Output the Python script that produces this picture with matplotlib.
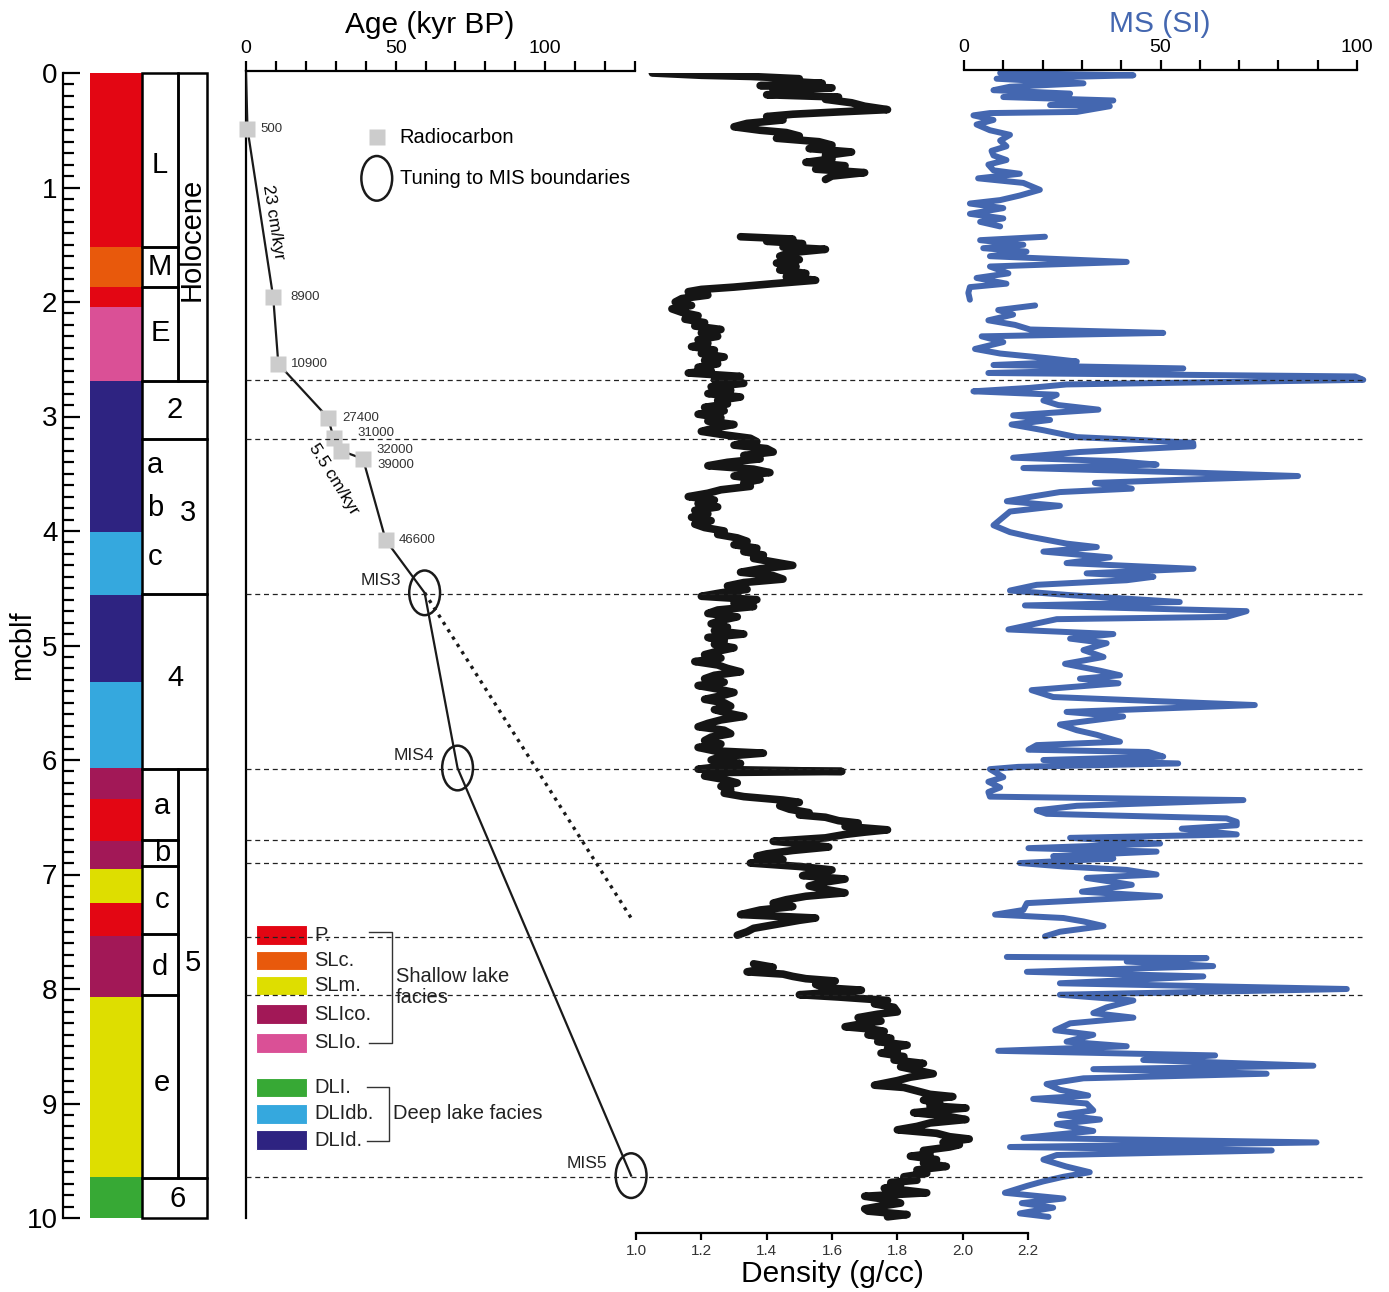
import matplotlib.pyplot as plt
import numpy as np
from matplotlib.patches import Rectangle, Ellipse

plt.rcParams['font.family'] = ['Liberation Sans', 'DejaVu Sans']

# ---------------- data ----------------
facies_names = ['P.', 'SLc.', 'SLm.', 'SLlco.', 'SLlo.', 'DLl.', 'DLldb.', 'DLld.']
facies_colors = {'P.': '#E30613', 'SLc.': '#E8590C', 'SLm.': '#DEDE00', 'SLlco.': '#A21857',
                 'SLlo.': '#DA5096', 'DLl.': '#37A935', 'DLldb.': '#35A8DE', 'DLld.': '#2E2381'}
facies_labels = ['P.', 'SLc.', 'SLm.', 'SLIco.', 'SLIo.', 'DLI.', 'DLIdb.', 'DLId.']

# lithology column (top, bottom, facies)
litho_top = [0.0, 1.52, 1.87, 2.04, 2.69, 4.01, 4.56, 5.32, 6.07, 6.34, 6.71, 6.95, 7.25, 7.54, 8.07, 9.64]
litho_bot = [1.52, 1.87, 2.04, 2.69, 4.01, 4.56, 5.32, 6.07, 6.34, 6.71, 6.95, 7.25, 7.54, 8.07, 9.64, 10.0]
litho_fac = ['P.', 'SLc.', 'P.', 'SLlo.', 'DLld.', 'DLldb.', 'DLld.', 'DLldb.', 'SLlco.', 'P.',
             'SLlco.', 'SLm.', 'P.', 'SLlco.', 'SLm.', 'DLl.']

# unit boxes (top, bottom, column)
box_top = [0.0, 1.52, 1.87, 0.0, 2.69, 3.20, 4.55, 6.08, 6.70, 6.93, 7.52, 8.05, 6.08, 9.65]
box_bot = [1.52, 1.87, 2.69, 2.69, 3.20, 4.55, 6.08, 6.70, 6.93, 7.52, 8.05, 9.65, 9.65, 10.0]
box_col = ['sub', 'sub', 'sub', 'unit', 'full', 'full', 'full', 'sub', 'sub', 'sub', 'sub', 'sub', 'unit', 'full']

unit_text = ['L', 'M', 'E', 'Holocene', '2', 'a', 'b', 'c', '3', '4', 'a', 'b', 'c', 'd', 'e', '5', '6']
unit_text_depth = [0.80, 1.69, 2.27, 1.45, 2.94, 3.42, 3.80, 4.23, 3.84, 5.28, 6.40, 6.81, 7.22, 7.81, 8.82, 7.77, 9.83]
unit_text_x = [97, 97, 97, 129, 112, 92, 92, 92, 125, 112, 99, 99, 99, 97, 99, 130, 115]

boundary_depth = [2.68, 3.20, 4.55, 6.08, 6.70, 6.90, 7.55, 8.05, 9.64]

# age model
rc_age = [0.5, 9.1, 10.8, 27.4, 29.3, 31.9, 39.1, 46.7]
rc_depth = [0.49, 1.96, 2.54, 3.01, 3.19, 3.30, 3.37, 4.08]
rc_label = ['500', '8900', '10900', '27400', '31000', '32000', '39000', '46600']
rc_offset = [(9, 0), (12, 0), (9, 0), (10.5, 0), (17, 3.5), (25, 0.5), (10.5, -4.5), (9, 0)]
mis_age = [59.7, 70.7, 128.7]
mis_depth = [4.54, 6.07, 9.63]
mis_label = ['MIS3', 'MIS4', 'MIS5']
extrap_age = [59.7, 128.7]
extrap_depth = [4.54, 7.38]

density_depth = [
    0.00, 0.02, 0.03, 0.05, 0.07, 0.09, 0.11, 0.13, 0.15, 0.17, 0.19, 0.21, 0.23, 0.26, 0.29, 0.32,
    0.34, 0.36, 0.38, 0.41, 0.44, 0.47, 0.50, 0.52, 0.55, 0.57, 0.60, 0.63, 0.66, 0.69, 0.72, 0.75,
    0.78, 0.81, 0.84, 0.87, 0.90, 0.93, np.nan,
    1.43, 1.45, 1.47, 1.49, 1.52, 1.54, 1.57, 1.60, 1.63, 1.66, 1.69, 1.72, 1.75, 1.78, 1.81, 1.84,
    1.87, 1.89, 1.91, 1.94, 1.97, 2.00, 2.03, 2.06, 2.09, 2.12, 2.15, 2.18, 2.21, 2.24, 2.27, 2.30,
    2.33, 2.36, 2.39, 2.42, 2.45, 2.48, 2.51, 2.54, 2.57, 2.60, 2.62, 2.65, 2.68, 2.71, 2.74, 2.77,
    2.80, 2.83, 2.86, 2.89, 2.92, 2.95, 2.98, 3.01, 3.04, 3.07, 3.10, 3.13, 3.16, 3.19, 3.22, 3.25,
    3.28, 3.31, 3.34, 3.37, 3.40, 3.43, 3.46, 3.49, 3.52, 3.55, 3.58, 3.61, 3.64, 3.67, 3.70, 3.73,
    3.76, 3.79, 3.82, 3.85, 3.88, 3.91, 3.94, 3.97, 4.00, 4.03, 4.06, 4.09, 4.12, 4.15, 4.18, 4.21,
    4.24, 4.27, 4.30, 4.33, 4.36, 4.39, 4.42, 4.45, 4.48, 4.51, 4.54, 4.57, 4.60, 4.63, 4.66, 4.69,
    4.72, 4.75, 4.78, 4.81, 4.84, 4.87, 4.90, 4.93, 4.96, 4.99, 5.02, 5.05, 5.08, 5.11, 5.14, 5.17,
    5.20, 5.23, 5.26, 5.29, 5.32, 5.35, 5.38, 5.41, 5.44, 5.47, 5.50, 5.53, 5.56, 5.59, 5.62, 5.65,
    5.68, 5.71, 5.74, 5.77, 5.80, 5.83, 5.86, 5.89, 5.92, 5.94, 5.97, 6.00, 6.03, 6.06, 6.08, 6.10,
    6.11, 6.14, 6.17, 6.20, 6.23, 6.26, 6.29, 6.32, 6.35, 6.37, 6.40, 6.43, 6.46, 6.48, 6.50, 6.53,
    6.55, 6.58, 6.61, 6.63, 6.65, 6.68, 6.71, 6.73, 6.76, 6.79, 6.82, 6.84, 6.87, 6.90, 6.93, 6.96,
    6.99, 7.01, 7.04, 7.07, 7.10, 7.12, 7.16, 7.19, 7.22, 7.25, 7.28, 7.31, 7.35, 7.38, 7.40, 7.44,
    7.47, 7.50, 7.53, np.nan,
    7.78, 7.81, 7.85, 7.87, 7.89, 7.91, 7.93, 7.96, 7.99, 8.01, 8.03, 8.05, 8.07, 8.10, 8.13, 8.16,
    8.20, 8.22, 8.25, 8.28, 8.30, 8.33, 8.35, 8.37, 8.40, 8.43, 8.46, 8.49, 8.52, 8.54, 8.56, 8.59,
    8.62, 8.65, 8.68, 8.71, 8.74, 8.77, 8.80, 8.84, 8.86, 8.89, 8.92, 8.94, 8.97, 9.00, 9.02, 9.04,
    9.06, 9.08, 9.11, 9.14, 9.17, 9.20, 9.23, 9.26, 9.29, 9.31, 9.34, 9.36, 9.38, 9.41, 9.44, 9.46,
    9.49, 9.52, 9.55, 9.58, 9.61, 9.64, 9.67, 9.69, 9.71, 9.74, 9.76, 9.78, 9.81, 9.84, 9.87, 9.90,
    9.92, 9.94, 9.97, 9.99]
density = [
    1.05, 1.20, 1.35, 1.50, 1.45, 1.57, 1.38, 1.60, 1.42, 1.52, 1.40, 1.62, 1.58, 1.66, 1.70, 1.77,
    1.62, 1.48, 1.40, 1.45, 1.34, 1.30, 1.38, 1.46, 1.50, 1.43, 1.56, 1.60, 1.53, 1.66, 1.58, 1.60,
    1.52, 1.64, 1.55, 1.70, 1.60, 1.58, np.nan,
    1.32, 1.48, 1.40, 1.51, 1.45, 1.58, 1.47, 1.44, 1.50, 1.43, 1.49, 1.44, 1.52, 1.46, 1.55, 1.42,
    1.30, 1.20, 1.16, 1.22, 1.14, 1.12, 1.17, 1.11, 1.14, 1.19, 1.15, 1.21, 1.18, 1.26, 1.20, 1.25,
    1.19, 1.22, 1.17, 1.24, 1.20, 1.27, 1.21, 1.25, 1.19, 1.23, 1.16, 1.32, 1.24, 1.33, 1.23, 1.29,
    1.22, 1.32, 1.25, 1.28, 1.21, 1.27, 1.19, 1.26, 1.22, 1.30, 1.24, 1.20, 1.27, 1.35, 1.37, 1.30,
    1.40, 1.42, 1.33, 1.38, 1.28, 1.22, 1.36, 1.41, 1.30, 1.38, 1.33, 1.35, 1.26, 1.22, 1.16, 1.24,
    1.19, 1.25, 1.18, 1.22, 1.17, 1.23, 1.18, 1.21, 1.27, 1.25, 1.31, 1.34, 1.30, 1.37, 1.33, 1.39,
    1.36, 1.42, 1.48, 1.38, 1.32, 1.42, 1.45, 1.33, 1.28, 1.34, 1.26, 1.20, 1.37, 1.30, 1.36, 1.25,
    1.22, 1.31, 1.26, 1.23, 1.28, 1.24, 1.33, 1.22, 1.27, 1.24, 1.30, 1.25, 1.21, 1.26, 1.18, 1.25,
    1.28, 1.32, 1.24, 1.21, 1.27, 1.19, 1.25, 1.30, 1.26, 1.21, 1.27, 1.29, 1.24, 1.28, 1.33, 1.26,
    1.22, 1.19, 1.27, 1.29, 1.23, 1.21, 1.26, 1.19, 1.24, 1.39, 1.26, 1.23, 1.32, 1.25, 1.19, 1.63,
    1.22, 1.21, 1.27, 1.31, 1.26, 1.29, 1.27, 1.33, 1.45, 1.50, 1.44, 1.47, 1.53, 1.50, 1.58, 1.62,
    1.68, 1.64, 1.77, 1.70, 1.64, 1.58, 1.42, 1.50, 1.59, 1.48, 1.40, 1.37, 1.45, 1.35, 1.50, 1.60,
    1.54, 1.51, 1.64, 1.57, 1.53, 1.56, 1.64, 1.52, 1.46, 1.42, 1.48, 1.38, 1.32, 1.55, 1.50, 1.42,
    1.36, 1.34, 1.31, np.nan,
    1.36, 1.42, 1.34, 1.45, 1.48, 1.52, 1.61, 1.55, 1.58, 1.69, 1.60, 1.50, 1.62, 1.77, 1.73, 1.79,
    1.80, 1.74, 1.68, 1.75, 1.70, 1.64, 1.72, 1.76, 1.71, 1.78, 1.74, 1.83, 1.77, 1.80, 1.75, 1.82,
    1.79, 1.88, 1.81, 1.86, 1.91, 1.84, 1.80, 1.73, 1.82, 1.86, 1.90, 1.97, 1.88, 1.93, 1.90, 2.01,
    1.92, 1.85, 1.95, 2.01, 1.90, 1.86, 1.80, 1.92, 1.96, 2.02, 1.94, 1.99, 1.96, 1.88, 1.90, 1.84,
    1.92, 1.88, 1.95, 1.86, 1.89, 1.82, 1.86, 1.78, 1.81, 1.76, 1.83, 1.89, 1.70, 1.77, 1.81, 1.74,
    1.70, 1.71, 1.83, 1.77]

ms_depth = [
    0.00, 0.02, 0.05, 0.09, 0.12, 0.15, 0.18, 0.21, 0.24, 0.28, 0.29, 0.34, 0.35, 0.37, 0.41, 0.45,
    0.50, 0.54, 0.59, 0.64, 0.68, 0.72, 0.76, 0.80, 0.85, 0.88, 0.92, 0.96, 1.02, 1.07, 1.11, 1.14,
    1.18, 1.23, 1.27, 1.30, 1.34, np.nan,
    1.43, 1.46, 1.50, 1.53, 1.56, 1.60, 1.65, 1.69, 1.75, 1.79, 1.84, 1.87, 1.92, 1.98, np.nan,
    2.03, 2.07, 2.11, 2.16, 2.20, 2.24, 2.27, 2.30, 2.35, 2.41, 2.45, 2.49, 2.52, 2.55, 2.58, 2.62,
    2.65, 2.68, 2.72, 2.75, 2.78, 2.81, 2.86, 2.90, 2.94, 2.99, 3.03, 3.07, 3.12, 3.18, 3.20, 3.23,
    3.26, 3.31, 3.36, 3.39, 3.42, 3.45, 3.49, 3.52, 3.55, 3.58, 3.63, 3.66, 3.70, 3.74, 3.78, 3.83,
    3.89, 3.95, 4.01, 4.05, 4.11, 4.14, 4.18, 4.23, 4.28, 4.33, 4.37, 4.40, 4.43, 4.47, 4.52, 4.56,
    4.62, 4.65, 4.70, 4.75, 4.77, 4.86, 4.90, 4.94, 4.98, 5.04, 5.10, 5.16, 5.22, 5.26, 5.29, 5.33,
    5.39, 5.45, 5.52, 5.58, 5.62, 5.69, 5.74, 5.78, 5.84, 5.87, 5.91, 5.93, 5.97, 6.00, 6.03, 6.06,
    6.08, 6.15, 6.19, 6.24, 6.28, 6.32, 6.35, 6.40, 6.44, 6.47, 6.51, 6.54, 6.57, 6.60, 6.65, 6.68,
    6.73, 6.77, 6.80, 6.84, 6.86, 6.90, 6.93, 6.96, 7.00, 7.03, 7.09, 7.15, 7.19, 7.25, 7.31, 7.35,
    7.38, 7.41, 7.45, 7.50, 7.54, np.nan,
    7.72, 7.73, 7.76, 7.80, 7.85, 7.89, 7.95, 8.00, 8.05, 8.10, 8.16, 8.21, 8.25, 8.30, 8.36, 8.40,
    8.46, 8.50, 8.54, 8.58, 8.62, 8.67, 8.70, 8.74, 8.78, 8.83, 8.88, 8.93, 8.96, 9.00, 9.06, 9.10,
    9.14, 9.18, 9.24, 9.30, 9.34, 9.38, 9.41, 9.45, 9.49, 9.55, 9.60, 9.64, 9.68, 9.72, 9.78, 9.83,
    9.87, 9.91, 9.96, 9.99]
ms = [
    9.2, 43.1, 8.3, 30.4, 11.7, 7.5, 27.0, 10.0, 38.0, 21.9, 37.1, 28.7, 6.6, 2.4, 7.5, 3.2,
    6.6, 11.7, 9.2, 10.8, 7.0, 7.5, 10.8, 6.2, 7.5, 14.2, 3.6, 15.1, 19.3, 14.2, 9.2, 1.5,
    10.0, 1.5, 10.0, 4.1, 9.2, np.nan,
    20.6, 4.1, 15.1, 4.9, 15.9, 6.6, 41.4, 6.6, 11.3, 3.2, 10.8, 1.5, 1.1, 1.5, np.nan,
    18.1, 8.7, 12.5, 6.2, 13.0, 16.8, 50.7, 4.5, 10.0, 2.8, 9.2, 21.0, 28.7, 7.5, 55.8, 6.2,
    99.5, 101.6, 26.1, 16.8, 2.4, 23.6, 20.2, 24.0, 34.2, 12.5, 21.9, 12.1, 20.2, 28.7, 41.4, 58.3,
    58.4, 29.5, 12.5, 38.8, 49.0, 15.1, 58.4, 85.0, 57.5, 33.3, 42.7, 24.4, 17.2, 10.9, 24.4, 11.7,
    9.6, 7.5, 11.7, 16.8, 26.1, 33.8, 20.2, 37.1, 26.1, 58.4, 31.2, 48.2, 41.4, 18.5, 11.7, 27.0,
    54.9, 15.5, 71.9, 66.8, 23.6, 11.3, 38.0, 27.0, 36.3, 30.4, 35.5, 25.7, 34.6, 39.7, 29.5, 39.3,
    17.2, 22.7, 74.0, 26.1, 40.5, 24.4, 28.7, 33.8, 39.7, 18.5, 16.4, 46.9, 50.7, 20.2, 54.5, 13.8,
    6.6, 10.0, 6.2, 9.2, 6.2, 6.6, 71.1, 28.7, 18.5, 21.0, 66.8, 69.4, 69.4, 55.4, 69.4, 27.0,
    49.9, 16.4, 49.0, 22.7, 38.0, 14.2, 25.3, 41.4, 49.0, 31.2, 42.7, 30.0, 49.9, 16.0, 15.1, 7.9,
    25.3, 30.4, 35.5, 24.4, 20.6, np.nan,
    10.9, 61.7, 41.4, 63.4, 16.0, 60.9, 24.4, 97.4, 24.4, 43.1, 36.3, 32.9, 43.1, 27.0, 23.2, 32.9,
    26.1, 41.4, 8.7, 63.9, 45.6, 88.9, 32.9, 77.0, 30.4, 21.0, 24.4, 31.6, 17.6, 31.2, 32.9, 24.4,
    34.6, 23.6, 32.9, 15.1, 89.7, 11.7, 78.3, 23.6, 20.2, 26.0, 32.0, 25.3, 20.2, 16.0, 10.4, 25.3,
    14.7, 22.7, 14.2, 21.5]

MS_BLUE = '#4467B0'

# ---------------- layout helpers ----------------
W, H = 1389, 1292
fig = plt.figure(figsize=(W / 100, H / 100), dpi=100)
Y0, PXM = 73, 114.5   # pixel row of depth 0 and pixels per metre


def depth_at(y):
    return (y - Y0) / PXM


def add_ax(x0, x1, y0, y1):
    ax = fig.add_axes([x0 / W, 1 - y1 / H, (x1 - x0) / W, (y1 - y0) / H])
    ax.set_facecolor('none')
    ax.set_ylim(depth_at(y1), depth_at(y0))
    for s in ax.spines.values():
        s.set_visible(False)
        s.set_linewidth(1.6)
    return ax


# ---------------- lithology / depth axis ----------------
ax_l = add_ax(63, 207, 73, 1218)
ax_l.set_xlim(0, 144)
ax_l.spines['left'].set_visible(True)
ax_l.set_xticks([])
ax_l.set_yticks(range(0, 11))
ax_l.set_yticks(np.arange(0, 10.01, 0.1), minor=True)
ax_l.tick_params(axis='y', which='major', direction='in', length=12, width=1.6, labelsize=20, pad=4)
ax_l.tick_params(axis='y', which='minor', direction='in', length=8, width=1.6)
ax_l.set_ylabel('mcblf', fontsize=21)
ax_l.yaxis.set_label_coords(-0.19, 0.5)

for t, b, f in zip(litho_top, litho_bot, litho_fac):
    ax_l.add_patch(Rectangle((27, t), 52, b - t, fc=facies_colors[f], ec='none'))

cols = {'sub': (79, 115), 'unit': (115, 144), 'full': (79, 144)}
for t, b, c in zip(box_top, box_bot, box_col):
    x0, x1 = cols[c]
    ax_l.add_patch(Rectangle((x0, t), x1 - x0, b - t, fill=False, ec='black', lw=1.8, clip_on=False))

for txt, d, x in zip(unit_text, unit_text_depth, unit_text_x):
    ax_l.text(x, d, txt, fontsize=21, ha='center', va='center',
              rotation=90 if txt == 'Holocene' else 0)

# ---------------- age model ----------------
ax_a = add_ax(246, 635, 71, 1218)
ax_a.set_xlim(0, 130)
ax_a.spines['left'].set_visible(True)
ax_a.spines['top'].set_visible(True)
ax_a.set_yticks([])
ax_a.set_xticks(range(0, 131, 10))
ax_a.set_xticklabels([str(v) if v % 50 == 0 else '' for v in range(0, 131, 10)])
ax_a.tick_params(axis='x', top=True, bottom=False, labeltop=True, labelbottom=False,
                 direction='out', length=7, width=1.6, labelsize=14, pad=3)
ax_a.text(0.473, 1.04, 'Age (kyr BP)', transform=ax_a.transAxes, fontsize=21.5,
          ha='center', va='center')

model_age = [0] + rc_age + mis_age
model_depth = [0] + rc_depth + mis_depth
ax_a.plot(model_age, model_depth, color='#1a1a1a', lw=1.6, zorder=3)
ax_a.plot(extrap_age, extrap_depth, color='#1a1a1a', lw=2.4, ls=(0, (1, 1.6)), zorder=3)
ax_a.plot(rc_age, rc_depth, 's', ms=12, color='#cccccc', mec='none', zorder=4, clip_on=False)
for a, d, lab, off in zip(rc_age, rc_depth, rc_label, rc_offset):
    ax_a.annotate(lab, (a, d), xytext=off, textcoords='offset points', fontsize=9.5,
                  color='#333333', ha='left', va='center', zorder=5)
for a, d, lab in zip(mis_age, mis_depth, mis_label):
    ax_a.add_patch(Ellipse((a, d), 10.3, 0.39, fill=False, ec='#1a1a1a', lw=1.8, zorder=5,
                           clip_on=False))
    ax_a.annotate(lab, (a, d), xytext=(-17, 9), textcoords='offset points', fontsize=12.5,
                  color='#222222', ha='right', va='center')

ax_a.text(9.0, 1.30, '23 cm/kyr', rotation=-81, fontsize=12.5, ha='center', va='center',
          rotation_mode='anchor')
ax_a.text(29.2, 3.55, '5.5 cm/kyr', rotation=-58, fontsize=12.5, ha='center', va='center',
          rotation_mode='anchor')

# legend of the age panel
ax_a.plot([43.7], [0.56], 's', ms=12, color='#cccccc', mec='none')
ax_a.text(51.3, 0.56, 'Radiocarbon', fontsize=14.5, va='center')
ax_a.add_patch(Ellipse((43.7, 0.92), 10.3, 0.39, fill=False, ec='#1a1a1a', lw=1.8))
ax_a.text(51.3, 0.92, 'Tuning to MIS boundaries', fontsize=14.5, va='center')

# facies legend
leg_depth = [7.53, 7.75, 7.97, 8.22, 8.47, 8.86, 9.09, 9.32]
for name, lab, d in zip(facies_names, facies_labels, leg_depth):
    ax_a.add_patch(Rectangle((3.3, d - 0.085), 17, 0.17, fc=facies_colors[name],
                             ec='white', lw=0.8, zorder=4))
    ax_a.text(22.7, d, lab, fontsize=14.5, va='center', color='#222222', zorder=4)
ax_a.plot([41, 48.7, 48.7, 41], [7.50, 7.50, 8.47, 8.47], color='#333333', lw=1)
ax_a.text(50, 7.98, 'Shallow lake\nfacies', fontsize=14.5, va='center', linespacing=1.15,
          color='#222222')
ax_a.plot([40.3, 47.7, 47.7, 40.3], [8.86, 8.86, 9.33, 9.33], color='#333333', lw=1)
ax_a.text(49, 9.09, 'Deep lake facies', fontsize=14.5, va='center', color='#222222')

# ---------------- density ----------------
ax_d = add_ax(636, 1028, 73, 1233)
ax_d.set_xlim(1.0, 2.2)
ax_d.spines['bottom'].set_visible(True)
ax_d.set_yticks([])
ticks = np.round(np.arange(1.0, 2.21, 0.2), 1)
ax_d.set_xticks(ticks)
ax_d.set_xticklabels(['%.1f' % v for v in ticks])
ax_d.tick_params(axis='x', direction='out', length=5, width=1.6, labelsize=11, pad=3,
                 labelcolor='#333333')
ax_d.set_xlabel('Density (g/cc)', fontsize=21.5, labelpad=1)
ax_d.plot(density, density_depth, color='#151515', lw=5.5, solid_joinstyle='round',
          solid_capstyle='round')

# ---------------- magnetic susceptibility ----------------
ax_m = add_ax(964, 1357, 70, 1218)
ax_m.set_xlim(0, 100)
ax_m.spines['top'].set_visible(True)
ax_m.set_yticks([])
ax_m.set_xticks(range(0, 101, 10))
ax_m.set_xticklabels([str(v) if v % 50 == 0 else '' for v in range(0, 101, 10)])
ax_m.tick_params(axis='x', top=True, bottom=False, labeltop=True, labelbottom=False,
                 direction='out', length=7, width=1.6, labelsize=14, pad=3)
ax_m.text(0.499, 1.04, 'MS (SI)', transform=ax_m.transAxes, fontsize=21.5,
          ha='center', va='center', color=MS_BLUE)
ax_m.plot(ms, ms_depth, color=MS_BLUE, lw=4.3, solid_joinstyle='round',
          solid_capstyle='round', clip_on=False)

# ---------------- boundary lines on top ----------------
ax_b = add_ax(246, 635, 71, 1218)
ax_b.set_xlim(0, 130)
ax_b.set_xticks([])
ax_b.set_yticks([])
ax_b.hlines(boundary_depth, 0, 373, colors='#222222', linestyles=(0, (4, 3)), lw=0.9,
            clip_on=False)

fig.savefig('out.png', dpi=100)
